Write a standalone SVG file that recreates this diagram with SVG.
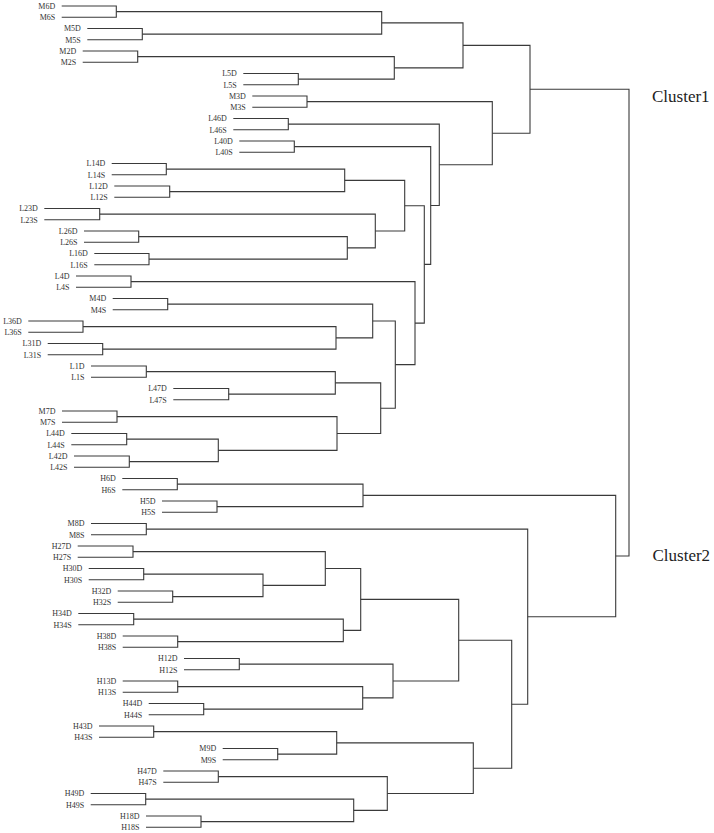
<svg xmlns="http://www.w3.org/2000/svg" width="714" height="833" viewBox="0 0 714 833">
<style>
.lf{font-family:"Liberation Serif","Times New Roman",serif;font-size:8px;fill:#333;text-anchor:end}
.cl{font-family:"Liberation Serif","Times New Roman",serif;font-size:17px;fill:#222}
#connectors path{fill:none;stroke:#3a3a3a;stroke-width:1.1}
</style>
<rect width="714" height="833" fill="#fff"/>
<g id="connectors">
<!-- leaf pairs -->
<path d="M61.7 6H116.3V17.25H61.7"/>
<path d="M87.3 28.5H142.3V39.75H87.3"/>
<path d="M82.7 51H137.7V62.25H82.7"/>
<path d="M243.3 73.5H298.3V84.75H243.3"/>
<path d="M252.3 96H307V107.25H252.3"/>
<path d="M233.3 118.5H288.3V129.75H233.3"/>
<path d="M239.3 141H294.3V152.25H239.3"/>
<path d="M111.7 163.5H166.3V174.75H111.7"/>
<path d="M114.3 186H169.7V197.25H114.3"/>
<path d="M44.3 208.5H99.7V219.75H44.3"/>
<path d="M84 231H138.7V242.25H84"/>
<path d="M94.3 253.5H149V264.75H94.3"/>
<path d="M76 276H131V287.25H76"/>
<path d="M112.7 298.5H167.7V309.75H112.7"/>
<path d="M28.3 321H83V332.25H28.3"/>
<path d="M47.7 343.5H102.7V354.75H47.7"/>
<path d="M91 366H146.3V377.25H91"/>
<path d="M173.3 388.5H228.7V399.75H173.3"/>
<path d="M62 411H117V422.25H62"/>
<path d="M71.3 433.5H126.7V444.75H71.3"/>
<path d="M74 456H129.3V467.25H74"/>
<path d="M122.3 478.5H177.3V489.75H122.3"/>
<path d="M162 501H217V512.25H162"/>
<path d="M91 523.5H146.3V534.75H91"/>
<path d="M77.7 546H133V557.25H77.7"/>
<path d="M88.7 568.5H143.7V579.75H88.7"/>
<path d="M117.7 591H172.7V602.25H117.7"/>
<path d="M78.3 613.5H133.7V624.75H78.3"/>
<path d="M122.7 636H177.7V647.25H122.7"/>
<path d="M184 658.5H239.3V669.75H184"/>
<path d="M122.7 681H177.7V692.25H122.7"/>
<path d="M148.7 703.5H203.7V714.75H148.7"/>
<path d="M99 726H153.7V737.25H99"/>
<path d="M222.7 748.5H277.7V759.75H222.7"/>
<path d="M163.3 771H218.3V782.25H163.3"/>
<path d="M90.7 793.5H145.7V804.75H90.7"/>
<path d="M146 816H201V827.25H146"/>
<!-- internal merges: cluster 1 -->
<path d="M116.3 11.6H381.7V34.1H142.3"/>
<path d="M137.7 56.6H394.3V79.1H298.3"/>
<path d="M381.7 22.9H463V67.9H394.3"/>
<path d="M166.3 169.1H344.7V191.6H169.7"/>
<path d="M138.7 236.6H347.3V259.1H149"/>
<path d="M99.7 214.1H375.3V247.9H347.3"/>
<path d="M344.7 180.4H404.7V231H375.3"/>
<path d="M83 326.6H336V349.1H102.7"/>
<path d="M167.7 304.1H372.7V337.9H336"/>
<path d="M146.3 371.6H335.3V394.1H228.7"/>
<path d="M126.7 439.1H218.3V461.6H129.3"/>
<path d="M117 416.6H337V450.4H218.3"/>
<path d="M335.3 382.9H380.7V433.5H337"/>
<path d="M372.7 321H395.3V408.2H380.7"/>
<path d="M131 281.6H415V364.6H395.3"/>
<path d="M404.7 205.7H424.3V323.1H415"/>
<path d="M294.3 146.6H430.7V264.4H424.3"/>
<path d="M288.3 124.1H439.3V205.5H430.7"/>
<path d="M307 101.6H492.3V164.8H439.3"/>
<path d="M463 45.4H530V133.2H492.3"/>
<!-- internal merges: cluster 2 -->
<path d="M177.3 484.1H363V506.6H217"/>
<path d="M143.7 574.1H263V596.6H172.7"/>
<path d="M133 551.6H325.3V585.4H263"/>
<path d="M133.7 619.1H343.3V641.6H177.7"/>
<path d="M325.3 568.5H360.7V630.4H343.3"/>
<path d="M177.7 686.6H362.7V709.1H203.7"/>
<path d="M239.3 664.1H393V697.9H362.7"/>
<path d="M360.7 599.4H458.7V681H393"/>
<path d="M153.7 731.6H336.7V754.1H277.7"/>
<path d="M145.7 799.1H353.7V821.6H201"/>
<path d="M218.3 776.6H387.3V810.4H353.7"/>
<path d="M336.7 742.9H473.3V793.5H387.3"/>
<path d="M458.7 640.2H511.7V768.2H473.3"/>
<path d="M146.3 529.1H527.7V704.2H511.7"/>
<path d="M363 495.4H615.7V616.7H527.7"/>
<!-- root -->
<path d="M530 89.3H629V556H615.7"/>
</g>
<g id="leaf-M6D"><text class="lf" x="55.2" y="8.8">M6D</text></g>
<g id="leaf-M6S"><text class="lf" x="55.2" y="20.05">M6S</text></g>
<g id="leaf-M5D"><text class="lf" x="80.8" y="31.3">M5D</text></g>
<g id="leaf-M5S"><text class="lf" x="80.8" y="42.55">M5S</text></g>
<g id="leaf-M2D"><text class="lf" x="76.2" y="53.8">M2D</text></g>
<g id="leaf-M2S"><text class="lf" x="76.2" y="65.05">M2S</text></g>
<g id="leaf-L5D"><text class="lf" x="236.8" y="76.3">L5D</text></g>
<g id="leaf-L5S"><text class="lf" x="236.8" y="87.55">L5S</text></g>
<g id="leaf-M3D"><text class="lf" x="245.8" y="98.8">M3D</text></g>
<g id="leaf-M3S"><text class="lf" x="245.8" y="110.05">M3S</text></g>
<g id="leaf-L46D"><text class="lf" x="226.8" y="121.3">L46D</text></g>
<g id="leaf-L46S"><text class="lf" x="226.8" y="132.55">L46S</text></g>
<g id="leaf-L40D"><text class="lf" x="232.8" y="143.8">L40D</text></g>
<g id="leaf-L40S"><text class="lf" x="232.8" y="155.05">L40S</text></g>
<g id="leaf-L14D"><text class="lf" x="105.2" y="166.3">L14D</text></g>
<g id="leaf-L14S"><text class="lf" x="105.2" y="177.55">L14S</text></g>
<g id="leaf-L12D"><text class="lf" x="107.8" y="188.8">L12D</text></g>
<g id="leaf-L12S"><text class="lf" x="107.8" y="200.05">L12S</text></g>
<g id="leaf-L23D"><text class="lf" x="37.8" y="211.3">L23D</text></g>
<g id="leaf-L23S"><text class="lf" x="37.8" y="222.55">L23S</text></g>
<g id="leaf-L26D"><text class="lf" x="77.5" y="233.8">L26D</text></g>
<g id="leaf-L26S"><text class="lf" x="77.5" y="245.05">L26S</text></g>
<g id="leaf-L16D"><text class="lf" x="87.8" y="256.3">L16D</text></g>
<g id="leaf-L16S"><text class="lf" x="87.8" y="267.55">L16S</text></g>
<g id="leaf-L4D"><text class="lf" x="69.5" y="278.8">L4D</text></g>
<g id="leaf-L4S"><text class="lf" x="69.5" y="290.05">L4S</text></g>
<g id="leaf-M4D"><text class="lf" x="106.2" y="301.3">M4D</text></g>
<g id="leaf-M4S"><text class="lf" x="106.2" y="312.55">M4S</text></g>
<g id="leaf-L36D"><text class="lf" x="21.8" y="323.8">L36D</text></g>
<g id="leaf-L36S"><text class="lf" x="21.8" y="335.05">L36S</text></g>
<g id="leaf-L31D"><text class="lf" x="41.2" y="346.3">L31D</text></g>
<g id="leaf-L31S"><text class="lf" x="41.2" y="357.55">L31S</text></g>
<g id="leaf-L1D"><text class="lf" x="84.5" y="368.8">L1D</text></g>
<g id="leaf-L1S"><text class="lf" x="84.5" y="380.05">L1S</text></g>
<g id="leaf-L47D"><text class="lf" x="166.8" y="391.3">L47D</text></g>
<g id="leaf-L47S"><text class="lf" x="166.8" y="402.55">L47S</text></g>
<g id="leaf-M7D"><text class="lf" x="55.5" y="413.8">M7D</text></g>
<g id="leaf-M7S"><text class="lf" x="55.5" y="425.05">M7S</text></g>
<g id="leaf-L44D"><text class="lf" x="64.8" y="436.3">L44D</text></g>
<g id="leaf-L44S"><text class="lf" x="64.8" y="447.55">L44S</text></g>
<g id="leaf-L42D"><text class="lf" x="67.5" y="458.8">L42D</text></g>
<g id="leaf-L42S"><text class="lf" x="67.5" y="470.05">L42S</text></g>
<g id="leaf-H6D"><text class="lf" x="115.8" y="481.3">H6D</text></g>
<g id="leaf-H6S"><text class="lf" x="115.8" y="492.55">H6S</text></g>
<g id="leaf-H5D"><text class="lf" x="155.5" y="503.8">H5D</text></g>
<g id="leaf-H5S"><text class="lf" x="155.5" y="515.05">H5S</text></g>
<g id="leaf-M8D"><text class="lf" x="84.5" y="526.3">M8D</text></g>
<g id="leaf-M8S"><text class="lf" x="84.5" y="537.55">M8S</text></g>
<g id="leaf-H27D"><text class="lf" x="71.2" y="548.8">H27D</text></g>
<g id="leaf-H27S"><text class="lf" x="71.2" y="560.05">H27S</text></g>
<g id="leaf-H30D"><text class="lf" x="82.2" y="571.3">H30D</text></g>
<g id="leaf-H30S"><text class="lf" x="82.2" y="582.55">H30S</text></g>
<g id="leaf-H32D"><text class="lf" x="111.2" y="593.8">H32D</text></g>
<g id="leaf-H32S"><text class="lf" x="111.2" y="605.05">H32S</text></g>
<g id="leaf-H34D"><text class="lf" x="71.8" y="616.3">H34D</text></g>
<g id="leaf-H34S"><text class="lf" x="71.8" y="627.55">H34S</text></g>
<g id="leaf-H38D"><text class="lf" x="116.2" y="638.8">H38D</text></g>
<g id="leaf-H38S"><text class="lf" x="116.2" y="650.05">H38S</text></g>
<g id="leaf-H12D"><text class="lf" x="177.5" y="661.3">H12D</text></g>
<g id="leaf-H12S"><text class="lf" x="177.5" y="672.55">H12S</text></g>
<g id="leaf-H13D"><text class="lf" x="116.2" y="683.8">H13D</text></g>
<g id="leaf-H13S"><text class="lf" x="116.2" y="695.05">H13S</text></g>
<g id="leaf-H44D"><text class="lf" x="142.2" y="706.3">H44D</text></g>
<g id="leaf-H44S"><text class="lf" x="142.2" y="717.55">H44S</text></g>
<g id="leaf-H43D"><text class="lf" x="92.5" y="728.8">H43D</text></g>
<g id="leaf-H43S"><text class="lf" x="92.5" y="740.05">H43S</text></g>
<g id="leaf-M9D"><text class="lf" x="216.2" y="751.3">M9D</text></g>
<g id="leaf-M9S"><text class="lf" x="216.2" y="762.55">M9S</text></g>
<g id="leaf-H47D"><text class="lf" x="156.8" y="773.8">H47D</text></g>
<g id="leaf-H47S"><text class="lf" x="156.8" y="785.05">H47S</text></g>
<g id="leaf-H49D"><text class="lf" x="84.2" y="796.3">H49D</text></g>
<g id="leaf-H49S"><text class="lf" x="84.2" y="807.55">H49S</text></g>
<g id="leaf-H18D"><text class="lf" x="139.5" y="818.8">H18D</text></g>
<g id="leaf-H18S"><text class="lf" x="139.5" y="830.05">H18S</text></g>
<g id="cluster1"><text class="cl" x="652" y="101.5">Cluster1</text></g>
<g id="cluster2"><text class="cl" x="652.5" y="560.5">Cluster2</text></g>
</svg>
